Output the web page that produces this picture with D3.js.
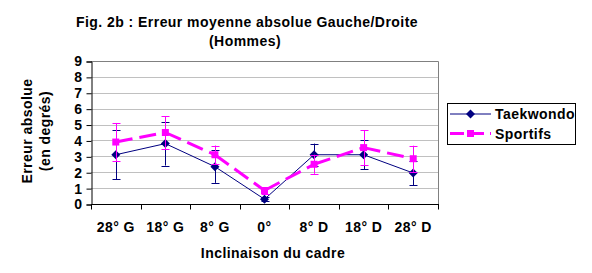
<!DOCTYPE html>
<html>
<head>
<meta charset="utf-8">
<script src="https://cdn.jsdelivr.net/npm/d3@7"></script>
<style>
  body { margin: 0; background: #fff; }
  text { font-family: "Liberation Sans", Arial, sans-serif; font-weight: bold; letter-spacing: 0.45px; }
</style>
</head>
<body>
<div id="chart"></div>
<script>
// categories and values
var categories = ["28° G", "18° G", "8° G", "0°", "8° D", "18° D", "28° D"];
var taekwondo = [3.1, 3.8, 2.35, 0.3, 3.1, 3.1, 1.95];
var taekwondoErr = [1.55, 1.38, 1.02, 0.12, 0.7, 0.9, 0.78];
var sportifs = [3.9, 4.5, 3.1, 0.85, 2.5, 3.55, 2.85];
var sportifsErr = [1.2, 1.03, 0.58, 0.2, 0.6, 1.1, 0.82];
var yTicks = [0, 1, 2, 3, 4, 5, 6, 7, 8, 9];

var width = 592, height = 273;
var plotL = 91, plotR = 438, plotT = 61, plotB = 204;
var fs = "14px";

var svg = d3.select("#chart").append("svg")
    .attr("width", width)
    .attr("height", height);

var x = d3.scaleBand().domain(categories).range([plotL, plotR]);
var y = d3.scaleLinear().domain([0, 9]).range([plotB, plotT]);

// gridlines
svg.selectAll(".grid")
    .data(yTicks.filter(function(d){ return d > 0 && d < 9; }))
    .enter().append("line")
    .attr("x1", plotL).attr("x2", plotR)
    .attr("y1", function(d){ return Math.round(y(d)) + 0.5; })
    .attr("y2", function(d){ return Math.round(y(d)) + 0.5; })
    .attr("stroke", "#c0c0c0");

// plot frame (top + right)
svg.append("path")
    .attr("d", "M" + plotL + "," + (plotT + 0.5) + "H" + (plotR + 0.5) + "V" + plotB)
    .attr("fill", "none")
    .attr("stroke", "#808080");

// y axis
var yAxis = d3.axisLeft(y).tickValues(yTicks).tickSize(5).tickPadding(4);
var gy = svg.append("g")
    .attr("transform", "translate(" + (plotL + 0.5) + ",0.5)")
    .call(yAxis);
gy.select(".domain").attr("stroke", "#000");
gy.selectAll("text").attr("font-size", fs).attr("fill", "#000")
    .style("font-family", "Liberation Sans, Arial, sans-serif").style("font-weight", "bold");

// x axis: ticks on category borders
var gx = svg.append("g")
    .attr("transform", "translate(0," + (plotB + 0.5) + ")");
gx.append("line").attr("x1", plotL).attr("x2", plotR + 1).attr("stroke", "#000");
var borders = categories.map(function(c){ return x(c); }).concat([plotR]);
gx.selectAll(".tick").data(borders).enter().append("line")
    .attr("x1", function(d){ return Math.round(d) + 0.5; })
    .attr("x2", function(d){ return Math.round(d) + 0.5; })
    .attr("y1", 0).attr("y2", 5)
    .attr("stroke", "#000");
gx.selectAll(".lbl").data(categories).enter().append("text")
    .attr("x", function(d){ return x(d) + x.bandwidth() / 2; })
    .attr("y", 27.5)
    .attr("text-anchor", "middle")
    .attr("font-size", fs)
    .text(function(d){ return d; });

function cx(i){ return x(categories[i]) + x.bandwidth() / 2; }

function drawSeries(vals, errs, color, lw, dash, marker) {
    var g = svg.append("g");
    // error bars
    vals.forEach(function(v, i){
        var xi = Math.round(cx(i)) + 0.5;
        var y1 = y(v + errs[i]), y2 = y(Math.max(0, v - errs[i]));
        g.append("line").attr("x1", xi).attr("x2", xi).attr("y1", y1).attr("y2", y2)
            .attr("stroke", color).attr("stroke-width", 1);
        [y1, y2].forEach(function(yy){
            g.append("line").attr("x1", xi - 4).attr("x2", xi + 4)
                .attr("y1", Math.round(yy) + 0.5).attr("y2", Math.round(yy) + 0.5)
                .attr("stroke", color).attr("stroke-width", 1);
        });
    });
    // line, one segment at a time so each dash run restarts at a point
    for (var i = 0; i < vals.length - 1; i++) {
        g.append("line")
            .attr("x1", cx(i)).attr("y1", y(vals[i]))
            .attr("x2", cx(i + 1)).attr("y2", y(vals[i + 1]))
            .attr("stroke", color).attr("stroke-width", lw)
            .attr("stroke-dasharray", dash);
    }
    // markers
    g.selectAll(".m").data(vals).enter().append("path")
        .attr("transform", function(d, i){ return "translate(" + cx(i) + "," + y(d) + ")"; })
        .attr("d", marker)
        .attr("fill", color);
}

var diamond = "M0,-4.5L4.5,0L0,4.5L-4.5,0Z";
var square = "M-3.5,-3.5H3.5V3.5H-3.5Z";

drawSeries(taekwondo, taekwondoErr, "#000080", 1, null, diamond);
drawSeries(sportifs, sportifsErr, "#ff00ff", 3, "17,7", square);

// title
svg.append("text").attr("x", 247).attr("y", 27).attr("text-anchor", "middle")
    .attr("font-size", fs).text("Fig. 2b : Erreur moyenne absolue Gauche/Droite");
svg.append("text").attr("x", 245).attr("y", 46).attr("text-anchor", "middle")
    .attr("font-size", fs).text("(Hommes)");

// axis titles
svg.append("text").attr("transform", "translate(32,131) rotate(-90)")
    .attr("text-anchor", "middle").attr("font-size", fs).text("Erreur absolue");
svg.append("text").attr("transform", "translate(50,131) rotate(-90)")
    .attr("text-anchor", "middle").attr("font-size", fs).text("(en degrés)");
svg.append("text").attr("x", 273).attr("y", 258).attr("text-anchor", "middle")
    .attr("font-size", fs).text("Inclinaison du cadre");

// legend
var lg = svg.append("g");
lg.append("rect").attr("x", 447.5).attr("y", 103.5).attr("width", 128).attr("height", 41)
    .attr("fill", "#fff").attr("stroke", "#000");
var legendItems = [
    {name: "Taekwondo", color: "#000080", lw: 1, dash: null, marker: diamond, y: 114},
    {name: "Sportifs", color: "#ff00ff", lw: 3, dash: "14,6", marker: square, y: 133.5}
];
legendItems.forEach(function(d){
    lg.append("line").attr("x1", 450).attr("x2", 491).attr("y1", d.y).attr("y2", d.y)
        .attr("stroke", d.color).attr("stroke-width", d.lw).attr("stroke-dasharray", d.dash);
    lg.append("path").attr("transform", "translate(470.5," + d.y + ")")
        .attr("d", d.marker).attr("fill", d.color);
    lg.append("text").attr("x", 495).attr("y", d.y + 5).attr("font-size", fs)
        .text(d.name);
});
</script>
</body>
</html>
